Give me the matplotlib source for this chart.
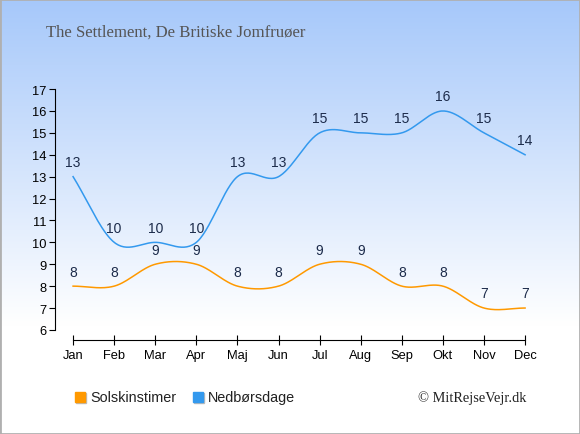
import numpy as np
import matplotlib

matplotlib.use("Agg")
import matplotlib.pyplot as plt
from matplotlib.colors import LinearSegmentedColormap
from matplotlib.patches import Rectangle

months = ["Jan", "Feb", "Mar", "Apr", "Maj", "Jun", "Jul", "Aug", "Sep", "Okt", "Nov", "Dec"]
sun_hours = [8, 8, 9, 9, 8, 8, 9, 9, 8, 8, 7, 7]
rain_days = [13, 10, 10, 10, 13, 13, 15, 15, 15, 16, 15, 14]

ORANGE = "#ff9900"
BLUE = "#3399ee"
LABEL = "#1c2b4a"


def smooth(y, n=30):
    # Catmull-Rom style curve through the given points (drawing only)
    y = np.asarray(y, dtype=float)
    m = np.zeros_like(y)
    m[1:-1] = (y[2:] - y[:-2]) / 2
    m[0] = y[1] - y[0]
    m[-1] = y[-1] - y[-2]
    xs, ys = [], []
    for i in range(len(y) - 1):
        t = np.linspace(0, 1, n, endpoint=False)
        h00 = 2 * t**3 - 3 * t**2 + 1
        h10 = t**3 - 2 * t**2 + t
        h01 = -2 * t**3 + 3 * t**2
        h11 = t**3 - t**2
        xs.append(i + t)
        ys.append(h00 * y[i] + h10 * m[i] + h01 * y[i + 1] + h11 * m[i + 1])
    xs.append([len(y) - 1])
    ys.append([y[-1]])
    return np.concatenate(xs), np.concatenate(ys)


fig = plt.figure(figsize=(5.8, 4.35), dpi=100)

# background gradient, light blue at the top fading to white
bg = fig.add_axes([0, 0, 1, 1], zorder=-10)
cmap = LinearSegmentedColormap.from_list("bg", [(0, "#a6c8fa"), (0.75, "#ffffff"), (1, "#ffffff")])
bg.imshow(np.linspace(0, 1, 256).reshape(-1, 1), aspect="auto", cmap=cmap,
          extent=[0, 1, 0, 1], origin="upper")
bg.set_xlim(0, 1)
bg.set_ylim(0, 1)
bg.axis("off")
fig.patches.append(Rectangle((0, 0), 1, 1, transform=fig.transFigure, fill=False,
                             edgecolor="#b0b0b0", linewidth=2))

ax = fig.add_axes([55 / 580, 94 / 435, 475 / 580, 261 / 435])
ax.patch.set_alpha(0)
x = np.arange(len(months))

for vals, col in [(sun_hours, ORANGE), (rain_days, BLUE)]:
    sx, sy = smooth(vals)
    ax.plot(sx, sy, color=col, linewidth=1.1)
    for xi, v in zip(x, vals):
        ax.annotate(str(v), (xi, v), xytext=(0, 10.5), textcoords="offset points",
                    ha="center", va="center", fontsize=10, color=LABEL,
                    family="Liberation Sans")

ax.set_xlim(-0.44, 11.12)
ax.set_ylim(5.54, 17.46)
ax.set_yticks(range(6, 18))
ax.set_xticks(x)
ax.set_xticklabels(months)
for s in ["top", "right"]:
    ax.spines[s].set_visible(False)
ax.spines["left"].set_bounds(6, 17)
ax.spines["bottom"].set_bounds(0, 11)
ax.tick_params(axis="y", direction="out", length=4, labelsize=9.3, pad=2)
ax.tick_params(axis="x", direction="inout", length=7, labelsize=9.3, pad=3)
for lab in ax.get_xticklabels() + ax.get_yticklabels():
    lab.set_family("Liberation Sans")

fig.text(46 / 580, 1 - 33 / 435, "The Settlement, De Britiske Jomfruøer", fontsize=12.1,
         family="Liberation Serif", color="#555555", va="center")

# legend
for x0, col, txt in [(75, ORANGE, "Solskinstimer"), (193, BLUE, "Nedbørsdage")]:
    fig.patches.append(Rectangle(((x0 + 1) / 580, 1 - 404 / 435), 10 / 580, 10 / 435,
                                 transform=fig.transFigure, color="#bbbbbb"))
    fig.patches.append(Rectangle((x0 / 580, 1 - 403 / 435), 10 / 580, 10 / 435,
                                 transform=fig.transFigure, color=col))
    fig.text((x0 + 15) / 580, 1 - 398 / 435, txt, fontsize=10.4, family="Liberation Sans",
             color="#222222", va="center")
fig.text(526 / 580, 1 - 398 / 435, "© MitRejseVejr.dk", fontsize=10.4, family="Liberation Serif",
         color="#222222", va="center", ha="right")

fig.savefig("out.png", dpi=100)
